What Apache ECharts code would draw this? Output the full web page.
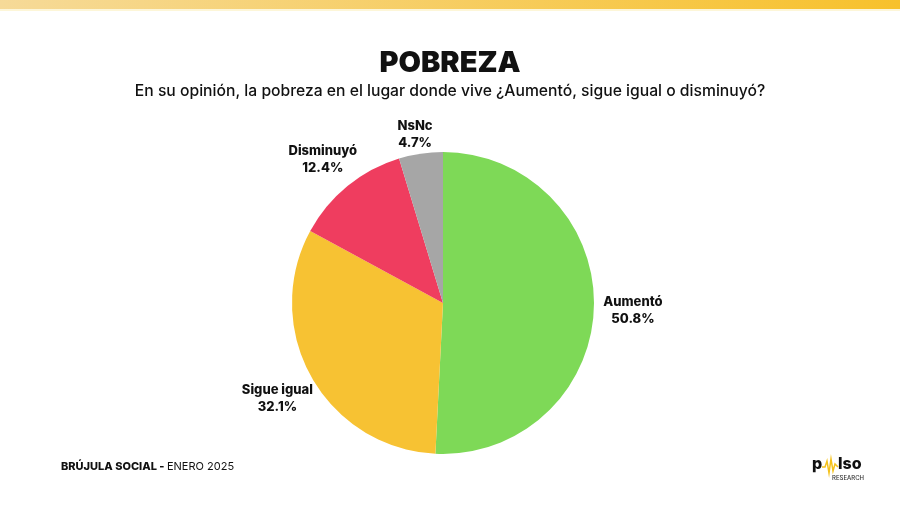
<!DOCTYPE html>
<html><head><meta charset="utf-8">
<script src="https://cdn.jsdelivr.net/npm/echarts@6/dist/echarts.min.js"></script>
<style>html,body{margin:0;padding:0;background:#fff}#c{width:900px;height:505px}</style>
</head><body><div id="c"></div>
<script>
const categories = ['Aumentó', 'Sigue igual', 'Disminuyó', 'NsNc'];
const values = [50.8, 32.1, 12.4, 4.7];
const colors = ['#7ed957', '#f7c233', '#ef3d5f', '#a6a6a6'];
const titleText = 'POBREZA';
const subtitleText = 'En su opinión, la pobreza en el lugar donde vive ¿Aumentó, sigue igual o disminuyó?';

const pieData = categories.map((c, i) => ({ name: c, value: values[i], itemStyle: { color: colors[i] } }));
const labelOffsets = [[0, 3], [0, 2], [0, 4], [0, 20]];
const labelData = categories.map((c, i) => ({ name: c, value: values[i], label: { offset: labelOffsets[i] } }));
const FONT = 'Inter, "Noto Sans", sans-serif';

const chart = echarts.init(document.getElementById('c'), null, { renderer: 'canvas' });
chart.setOption({
  backgroundColor: '#ffffff',
  animation: false,
  title: [
    { text: titleText, left: 'center', top: 44, textStyle: { fontFamily: FONT, fontWeight: 900, fontSize: 29, color: '#111' } },
    { text: subtitleText, left: 'center', top: 78, textStyle: { fontFamily: FONT, fontWeight: 500, fontSize: 15.7, color: '#111' } }
  ],
  graphic: [
    { type: 'rect', left: 0, top: 0, shape: { width: 900, height: 9 },
      style: { fill: new echarts.graphic.LinearGradient(0, 0, 1, 0, [{ offset: 0, color: '#f6da98' }, { offset: 1, color: '#f7c12c' }]) } },
    { type: 'rect', left: 0, top: 9, shape: { width: 900, height: 2 }, style: { fill: '#fdf6d8' } },
    { type: 'text', left: 61, top: 461, style: {
        text: '{b|BRÚJULA SOCIAL - }{n|ENERO 2025}',
        rich: { b: { fontFamily: FONT, fontWeight: 800, fontSize: 11, fill: '#111' }, n: { fontFamily: FONT, fontWeight: 400, fontSize: 11, fill: '#111' } } } },
    { type: 'text', left: 812, top: 456, style: { text: 'p', font: '800 16px ' + FONT, fill: '#111' } },
    { type: 'polyline', shape: { points: [[822, 467], [825, 467], [827, 461], [829, 473], [831, 459], [833, 471], [835, 464], [838, 467]] },
      style: { stroke: '#f5c21b', lineWidth: 1.5, fill: null } },
    { type: 'text', left: 838, top: 456, style: { text: 'lso', font: '800 16px ' + FONT, fill: '#111' } },
    { type: 'text', left: 832, top: 475, style: { text: 'RESEARCH', font: '500 6px ' + FONT, fill: '#333' } }
  ],
  series: [
    {
      type: 'pie', center: [443, 303], radius: [0, 151], startAngle: 90, clockwise: true,
      silent: true, label: { show: false }, labelLine: { show: false },
      itemStyle: { borderWidth: 0 },
      data: pieData
    },
    {
      type: 'pie', center: [443, 303], radius: [0, 374], startAngle: 90, clockwise: true,
      silent: true, z: 5,
      itemStyle: { color: 'rgba(0,0,0,0)', borderWidth: 0 },
      labelLine: { show: false },
      label: {
        show: true, position: 'inside',
        formatter: p => '{a|' + p.name + '}\n{a|' + p.value.toFixed(1) + '%}',
        rich: { a: { fontFamily: FONT, fontWeight: 800, fontSize: 13, color: '#111', lineHeight: 17, align: 'center' } }
      },
      data: labelData
    }
  ]
});
</script></body></html>
